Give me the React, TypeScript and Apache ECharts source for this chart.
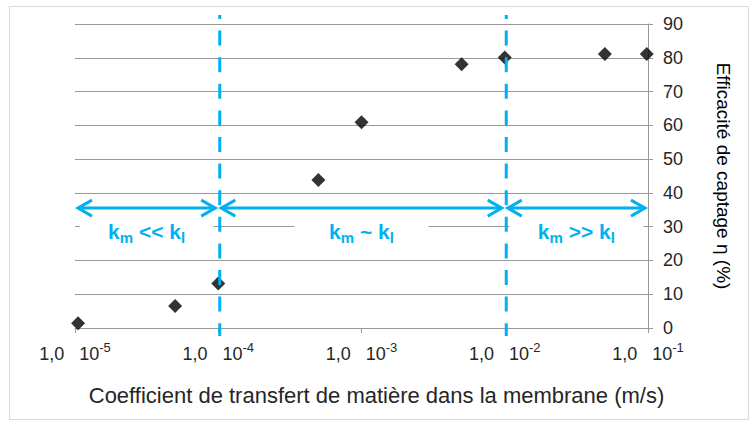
import React, { useEffect, useRef } from "react";
import * as echarts from "echarts";

// Data
const kValues = [1.05e-5, 5e-5, 1e-4, 5e-4, 1e-3, 5e-3, 1e-2, 5e-2, 9.8e-2];
const efficiencies = [1.4, 6.5, 13.2, 43.8, 60.9, 78.1, 80.1, 81.1, 81.1];
const boundaries = [1e-4, 1e-2];
const regimeStart = [1e-5, 1e-4, 1e-2];
const regimeEnd = [1e-4, 1e-2, 1e-1];
const regimeOps = ["<<", "~", ">>"];
const arrowLevel = 35.5;
const labelLevel = 28.5;
const xMin = 1e-5;
const xMax = 1e-1;
const yMin = 0;
const yMax = 90;
const yStep = 10;
const xTitle = "Coefficient de transfert de matière dans la membrane (m/s)";
const yTitle = "Efficacité de captage η (%)";

const BLUE = "#00B0F0";
const GRID = "#999999";
const TEXT = "#262626";
const FONT = "'Liberation Sans', Arial, sans-serif";

export default function App() {
  const ref = useRef<HTMLDivElement>(null);
  useEffect(() => {
    if (!ref.current) return;
    const chart = echarts.init(ref.current, null, { renderer: "svg" });
    const option: any = {
      animation: false,
      backgroundColor: "#fff",
      grid: { left: 75, right: 105, top: 24, bottom: 97 },
      xAxis: {
        type: "log",
        logBase: 10,
        min: xMin,
        max: xMax,
        axisLine: { show: true, onZero: false, lineStyle: { color: GRID, width: 1 } },
        axisTick: { show: true, length: 5, lineStyle: { color: GRID } },
        splitLine: { show: false },
        axisLabel: {
          margin: 13,
          color: TEXT,
          fontSize: 18,
          fontFamily: FONT,
          formatter: (v: number) => `{a|1,0   10}{sup|${Math.round(Math.log10(v))}}`,
          rich: {
            a: { fontSize: 18, fontFamily: FONT, color: TEXT, verticalAlign: "middle" },
            sup: { fontSize: 13, fontFamily: FONT, color: TEXT, verticalAlign: "middle", padding: [0, 0, 12, 0] },
          },
        },
        name: xTitle,
        nameLocation: "middle",
        nameGap: 56,
        nameTextStyle: { fontSize: 22, fontFamily: FONT, color: TEXT, padding: [0, 0, 0, 30] },
      },
      yAxis: {
        type: "value",
        position: "right",
        min: yMin,
        max: yMax,
        interval: yStep,
        axisLine: { show: true, onZero: false, lineStyle: { color: GRID, width: 1 } },
        axisTick: { show: true, length: 5, lineStyle: { color: GRID } },
        splitLine: { show: true, lineStyle: { color: GRID, width: 1 } },
        axisLabel: { margin: 15, color: TEXT, fontSize: 18, fontFamily: FONT },
        name: yTitle,
        nameLocation: "middle",
        nameRotate: -90,
        nameGap: 66,
        nameTextStyle: { fontSize: 19, fontFamily: FONT, color: "#000" },
      },
      graphic: [
        {
          type: "rect",
          shape: { x: 9.5, y: 6.5, width: 739, height: 413 },
          style: { fill: "none", stroke: "#d9d9d9", lineWidth: 1 },
          silent: true,
        },
      ],
      series: [
        {
          type: "scatter",
          data: kValues.map((k, i) => [k, efficiencies[i]]),
          symbol: "diamond",
          symbolSize: 14,
          itemStyle: { color: "#000" },
          z: 2,
        },
        {
          type: "custom",
          clip: false,
          z: 4,
          data: regimeStart.map((s, i) => [s, regimeEnd[i], arrowLevel, labelLevel]),
          encode: { x: [0, 1], y: [2, 3] },
          renderItem: (params: any, api: any) => {
            const i = params.dataIndex;
            const s = api.value(0);
            const e = api.value(1);
            const p0 = api.coord([s, api.value(2)]);
            const p1 = api.coord([e, api.value(2)]);
            const lc = api.coord([Math.sqrt(s * e), api.value(3)]);
            const xl = p0[0] + 3;
            const xr = p1[0] - 3;
            const y = p0[1];
            const ah = 14;
            const aw = 8;
            const ls = { stroke: BLUE, lineWidth: 3, fill: "none" };
            return {
              type: "group",
              children: [
                {
                  type: "rect",
                  shape: { x: lc[0] - 67, y: lc[1] - 15, width: 134, height: 30 },
                  style: { fill: "#fff" },
                },
                { type: "line", shape: { x1: xl, y1: y, x2: xr, y2: y }, style: ls },
                {
                  type: "polyline",
                  shape: { points: [[xl + ah, y - aw], [xl, y], [xl + ah, y + aw]] },
                  style: ls,
                },
                {
                  type: "polyline",
                  shape: { points: [[xr - ah, y - aw], [xr, y], [xr - ah, y + aw]] },
                  style: ls,
                },
                {
                  type: "text",
                  x: lc[0],
                  y: lc[1],
                  style: {
                    text: `{k|k}{s|m}{k| ${regimeOps[i]} k}{s|l}`,
                    align: "center",
                    verticalAlign: "middle",
                    rich: {
                      k: { fontSize: 21, fontWeight: "bold", fontFamily: FONT, fill: BLUE, color: BLUE, verticalAlign: "middle" },
                      s: { fontSize: 15, fontWeight: "bold", fontFamily: FONT, fill: BLUE, color: BLUE, verticalAlign: "middle", padding: [12, 0, 0, 0] },
                    },
                  },
                },
              ],
            };
          },
        },
        {
          type: "custom",
          clip: false,
          z: 5,
          data: boundaries.map((b) => [b, yMin]),
          renderItem: (params: any, api: any) => {
            const top = api.coord([api.value(0), yMax]);
            const bot = api.coord([api.value(0), yMin]);
            return {
              type: "line",
              shape: { x1: top[0] + 1.5, y1: top[1] - 9, x2: bot[0] + 1.5, y2: bot[1] + 8 },
              style: { stroke: BLUE, lineWidth: 3, lineDash: [15, 11.6], lineDashOffset: 11 },
            };
          },
        },
      ],
    };
    chart.setOption(option);
    return () => chart.dispose();
  }, []);
  return (
    <div
      ref={ref}
      style={{ position: "absolute", left: 0, top: 0, width: 753, height: 425 }}
    />
  );
}
